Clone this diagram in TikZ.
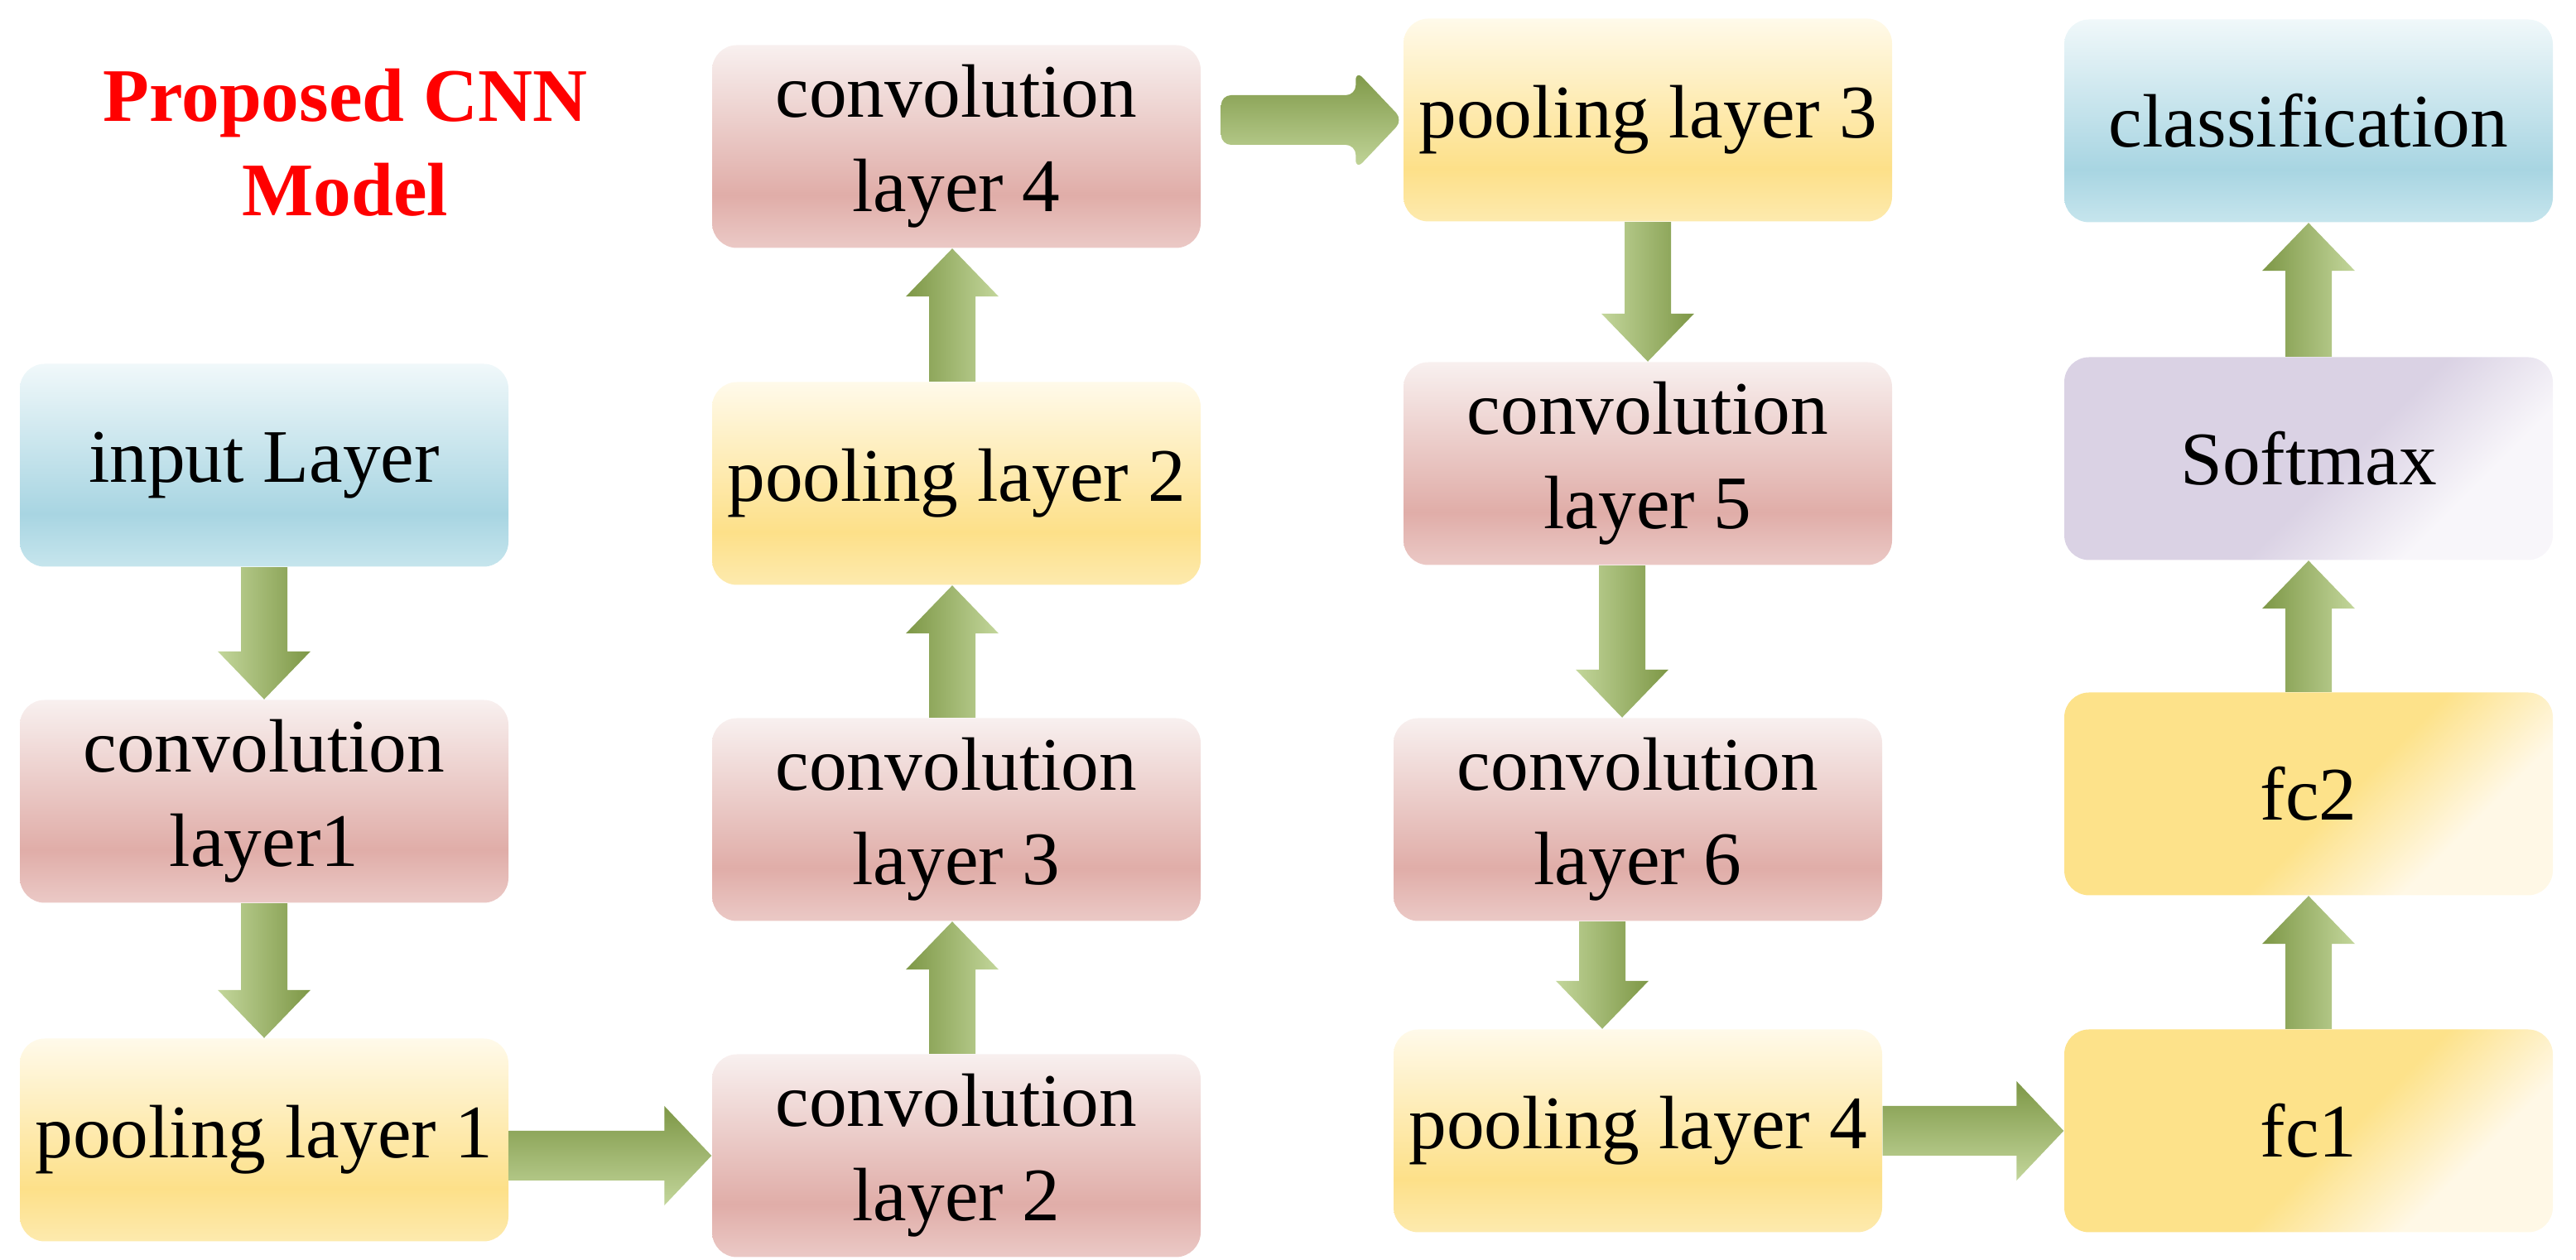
\documentclass[tikz,border=0pt]{standalone}
\usepackage{fontspec}
\setmainfont{Liberation Serif}
\usepackage{xcolor}
\usepackage{tikz}
\usetikzlibrary{calc}

% box colours
\definecolor{blueT}{HTML}{F0F8FA}
\definecolor{blueM}{HTML}{A8D5E2}
\definecolor{blueB}{HTML}{C6E5ED}
\definecolor{redT}{HTML}{F8F0EF}
\definecolor{redM}{HTML}{E0ADA8}
\definecolor{redB}{HTML}{EBC9C6}
\definecolor{ylwT}{HTML}{FFFAEA}
\definecolor{ylwM}{HTML}{FDE089}
\definecolor{ylwB}{HTML}{FDEAAE}
\definecolor{fcM}{HTML}{FDE28A}
\definecolor{fcC}{HTML}{FFF8E6}
\definecolor{smM}{HTML}{DAD2E4}
\definecolor{smC}{HTML}{F8F6FA}
% arrow colours
\definecolor{arrDark}{HTML}{7D9746}
\definecolor{arrMid}{HTML}{9DBB5E}
\definecolor{arrLight}{HTML}{C3D69B}

\pgfdeclareverticalshading{blueshade}{100bp}{color(0bp)=(blueB); color(25bp)=(blueB); color(38bp)=(blueM); color(75bp)=(blueT); color(100bp)=(blueT)}
\pgfdeclareverticalshading{redshade}{100bp}{color(0bp)=(redB); color(25bp)=(redB); color(38bp)=(redM); color(75bp)=(redT); color(100bp)=(redT)}
\pgfdeclareverticalshading{ylwshade}{100bp}{color(0bp)=(ylwB); color(25bp)=(ylwB); color(38bp)=(ylwM); color(75bp)=(ylwT); color(100bp)=(ylwT)}
\pgfdeclareverticalshading{fcshade}{100bp}{color(0bp)=(fcC); color(30bp)=(fcC); color(46bp)=(fcM); color(100bp)=(fcM)}
\pgfdeclareverticalshading{smshade}{100bp}{color(0bp)=(smC); color(30bp)=(smC); color(46bp)=(smM); color(100bp)=(smM)}

\tikzset{
  layerbox/.style={rectangle, rounded corners=0.3cm, minimum width=5.9cm,
    minimum height=2.45cm, inner sep=0pt, align=center,
    font=\fontsize{26}{32.5}\selectfont},
  inbox/.style={layerbox, shading=blueshade},
  convbox/.style={layerbox, shading=redshade},
  poolbox/.style={layerbox, shading=ylwshade},
  fcbox/.style={layerbox, shading=fcshade, shading angle=45},
  smbox/.style={layerbox, shading=smshade, shading angle=45},
  arrdown/.style={left color=arrLight, middle color=arrMid, right color=arrDark},
  arrup/.style={left color=arrDark, middle color=arrMid, right color=arrLight},
  arrright/.style={top color=arrDark, middle color=arrMid, bottom color=arrLight},
}

% block arrows between two anchors
\newcommand{\arrowdown}[3][0cm]{%
  \path[arrdown] let \p1=([xshift=#1]#2), \p2=(#3) in
    ({\x1-0.28cm},\y1) -- ({\x1+0.28cm},\y1) -- ({\x1+0.28cm},{\y2+0.58cm})
    -- ({\x1+0.56cm},{\y2+0.58cm}) -- (\x1,\y2) -- ({\x1-0.56cm},{\y2+0.58cm})
    -- ({\x1-0.28cm},{\y2+0.58cm}) -- cycle;}
\newcommand{\arrowup}[3][0cm]{%
  \path[arrup] let \p1=([xshift=#1]#2), \p2=(#3) in
    ({\x1-0.28cm},\y1) -- ({\x1+0.28cm},\y1) -- ({\x1+0.28cm},{\y2-0.58cm})
    -- ({\x1+0.56cm},{\y2-0.58cm}) -- (\x1,\y2) -- ({\x1-0.56cm},{\y2-0.58cm})
    -- ({\x1-0.28cm},{\y2-0.58cm}) -- cycle;}
\newcommand{\arrowright}[3][]{%
  \path[arrright,#1] let \p1=(#2), \p2=(#3) in
    (\x1,{\y2+0.30cm}) -- ({\x2-0.57cm},{\y2+0.30cm}) -- ({\x2-0.57cm},{\y2+0.60cm})
    -- (\x2,\y2) -- ({\x2-0.57cm},{\y2-0.60cm}) -- ({\x2-0.57cm},{\y2-0.30cm})
    -- (\x1,{\y2-0.30cm}) -- cycle;}

\begin{document}
\begin{tikzpicture}
    \useasboundingbox (0, 0) rectangle (31.11, 15.22);

    % title
    \node[text=red, font=\fontsize{26}{32.5}\selectfont\bfseries, align=center]
      (title) at (4.17, 13.50) {Proposed CNN\\Model};

    % first column
    \node[inbox] (input) at (3.19, 9.60) {input Layer};
    \node[convbox] (conv1) at (3.19, 5.54) {convolution\\layer1};
    \node[poolbox] (pool1) at (3.19, 1.45) {pooling layer 1};

    % second column
    \node[convbox] (conv2) at (11.55, 1.26) {convolution\\layer 2};
    \node[convbox] (conv3) at (11.55, 5.32) {convolution\\layer 3};
    \node[poolbox] (pool2) at (11.55, 9.38) {pooling layer 2};
    \node[convbox] (conv4) at (11.55, 13.45) {convolution\\layer 4};

    % third column
    \node[poolbox] (pool3) at (19.90, 13.77) {pooling layer 3};
    \node[convbox] (conv5) at (19.90, 9.62) {convolution\\layer 5};
    \node[convbox] (conv6) at (19.78, 5.32) {convolution\\layer 6};
    \node[poolbox] (pool4) at (19.78, 1.56) {pooling layer 4};

    % fourth column
    \node[fcbox] (fc1) at (27.88, 1.56) {fc1};
    \node[fcbox] (fc2) at (27.88, 5.63) {fc2};
    \node[smbox] (softmax) at (27.88, 9.68) {Softmax};
    \node[inbox] (classif) at (27.88, 13.76) {classification};

    % arrows
    \arrowdown{input.south}{conv1.north}
    \arrowdown{conv1.south}{pool1.north}
    \arrowright{pool1.east}{conv2.west}
    \arrowup[-0.05cm]{conv2.north}{conv3.south}
    \arrowup[-0.05cm]{conv3.north}{pool2.south}
    \arrowup[-0.05cm]{pool2.north}{conv4.south}
    \coordinate (c4out) at ([xshift=0.24cm]conv4.east);
    \arrowright[rounded corners=0.12cm]{c4out}{pool3.west}
    \arrowdown{pool3.south}{conv5.north}
    \arrowdown[-0.31cm]{conv5.south}{conv6.north}
    \arrowdown[-0.43cm]{conv6.south}{pool4.north}
    \arrowright{pool4.east}{fc1.west}
    \arrowup{fc1.north}{fc2.south}
    \arrowup{fc2.north}{softmax.south}
    \arrowup{softmax.north}{classif.south}
\end{tikzpicture}
\end{document}
